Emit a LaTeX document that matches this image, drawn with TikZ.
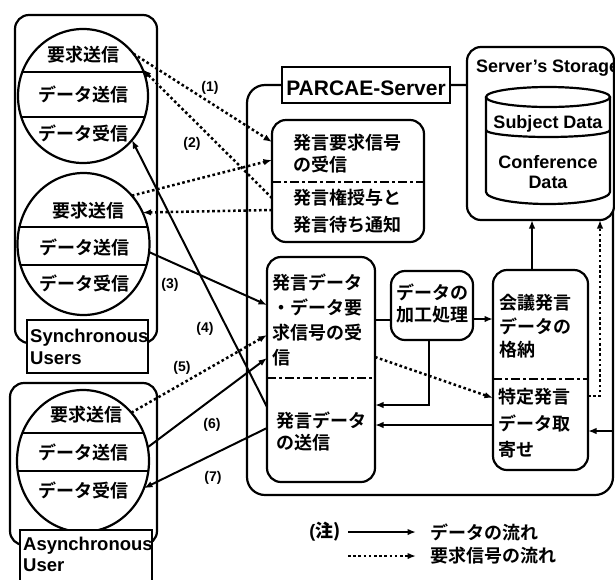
\documentclass[tikz,border=0pt]{standalone}
\usepackage{fontspec}
\setmainfont{Liberation Sans}
\newfontfamily\cjk{Noto Sans CJK JP Bold}
\usetikzlibrary{arrows.meta,shapes.geometric}
\begin{document}
\begin{tikzpicture}[x=1pt,y=-1pt,
  box/.style={draw, line width=2.2pt, rounded corners=14pt, inner sep=0pt, outer sep=0pt},
  sq/.style={draw, line width=2pt, fill=white, inner sep=0pt, outer sep=0pt},
  ell/.style={draw, ellipse, line width=2.2pt, inner sep=0pt, outer sep=0pt},
  sepline/.style={line width=2pt},
  jp/.style={font=\cjk\fontsize{18}{22}\selectfont, inner sep=0pt, align=left},
  en/.style={font=\bfseries\fontsize{18.5}{22}\selectfont, inner sep=0pt},
  num/.style={font=\bfseries\fontsize{14}{16}\selectfont, inner sep=0pt},
  flow/.style={line width=2pt, -{Latex[length=8.5pt,width=6.5pt]}},
  req/.style={line width=2.5pt, dash pattern=on 2.6pt off 2.6pt, -{Latex[length=8.5pt,width=6.5pt]}},
  divline/.style={line width=2pt, dash pattern=on 9pt off 3pt on 3pt off 3pt},
]
\path[use as bounding box, fill=white] (0,0) rectangle (615,579);

% ---------- users ----------
\node[box, minimum width=142, minimum height=328] (sync) at (86,179) {};
\node[box, minimum width=147, minimum height=162] (async) at (83.5,464) {};
\node[ell, minimum width=130, minimum height=134] (e1) at (83,96) {};
\node[ell, minimum width=132, minimum height=142] (e2) at (83.5,244) {};
\node[ell, minimum width=132, minimum height=142] (e3) at (83,461) {};
\begin{scope}
  \clip (e1.center) ellipse [x radius=65, y radius=67];
  \draw[sepline] (0,72) -- (200,72) (0,117) -- (200,117);
\end{scope}
\begin{scope}
  \clip (e2.center) ellipse [x radius=66, y radius=71];
  \draw[sepline] (0,227) -- (200,227) (0,265) -- (200,265);
\end{scope}
\begin{scope}
  \clip (e3.center) ellipse [x radius=66, y radius=71];
  \draw[sepline] (0,433) -- (200,433) (0,471) -- (200,471);
\end{scope}
\node[jp] (e1a) at (83,55) {要求送信};
\node[jp] (e1b) at (83,94) {データ送信};
\node[jp] (e1c) at (83,133) {データ受信};
\node[jp] (e2a) at (88,211) {要求送信};
\node[jp] (e2b) at (84,247) {データ送信};
\node[jp] (e2c) at (84,283) {データ受信};
\node[jp] (e3a) at (86,415) {要求送信};
\node[jp] (e3b) at (83,452) {データ送信};
\node[jp] (e3c) at (83,490) {データ受信};

\node[sq, minimum width=121, minimum height=53] (synl) at (87.5,346.5) {};
\node[en, anchor=base west] (synt1) at (30,342) {Synchronous};
\node[en, anchor=base west] (synt2) at (30,364) {Users};
\node[sq, minimum width=132, minimum height=70] (asynl) at (86,565) {};
\node[en, anchor=base west] (asynt1) at (23,550) {Asynchronous};
\node[en, anchor=base west] (asynt2) at (23,571) {User};

% ---------- server ----------
\node[box, rounded corners=18pt, minimum width=366, minimum height=410] (srv) at (430,290) {};
\node[box, fill=white, minimum width=147, minimum height=173] (st) at (540.5,133.5) {};
\node[sq, minimum width=168, minimum height=36] (pl) at (366,85) {};
\node[font=\bfseries\fontsize{21}{24}\selectfont, inner sep=0pt, anchor=base] (plt) at (366,95) {PARCAE-Server};
\node[font=\bfseries\fontsize{18}{20}\selectfont, inner sep=0pt, anchor=base west] (stt) at (476,72) {Server's Storage};

% cylinder
\draw[line width=2.2pt] (486,97) -- (486,192) arc[start angle=180, end angle=0, x radius=62, y radius=12] -- (610,97);
\draw[line width=2.2pt] (548,97) ellipse [x radius=62, y radius=10];
\draw[line width=2.2pt] (486,130) arc[start angle=180, end angle=0, x radius=62, y radius=7];
\node[font=\bfseries\fontsize{18}{20}\selectfont, inner sep=0pt, anchor=base] (subj) at (548,128) {Subject Data};
\node[font=\bfseries\fontsize{18}{20}\selectfont, inner sep=0pt, anchor=base] (conf) at (548,168) {Conference};
\node[font=\bfseries\fontsize{18}{20}\selectfont, inner sep=0pt, anchor=base] (confd) at (548,188) {Data};

% inner boxes
\node[box, minimum width=152, minimum height=122] (b1) at (348,181) {};
\node[box, minimum width=108, minimum height=225] (b2) at (321,369.5) {};
\node[box, minimum width=82, minimum height=69] (b3) at (432,305.5) {};
\node[box, minimum width=95, minimum height=200] (b4) at (540.5,370) {};
\draw[divline] (b1.west |- 0,182) -- (b1.east |- 0,182);
\draw[divline] (b2.west |- 0,378) -- (b2.east |- 0,378);
\draw[divline] (b4.west |- 0,379) -- (b4.east |- 0,379);

\node[jp, anchor=west, font=\cjk\fontsize{18}{22}\selectfont] (t1a) at (293,154) {発言要求信号\\の受信};
\node[jp, anchor=west, font=\cjk\fontsize{18}{27}\selectfont] (t1b) at (293,211.5) {発言権授与と\\発言待ち通知};
\node[jp, anchor=west, font=\cjk\fontsize{18}{25.3}\selectfont] (t2a) at (272,320) {発言データ\\・データ要\\求信号の受\\信};
\node[jp, anchor=west, font=\cjk\fontsize{18}{22}\selectfont] (t2b) at (276,431) {発言データ\\の送信};
\node[jp, anchor=west, font=\cjk\fontsize{18}{22}\selectfont] (t3) at (396,304) {データの\\加工処理};
\node[jp, anchor=west, font=\cjk\fontsize{18}{23.5}\selectfont] (t4a) at (499,326.5) {会議発言\\データの\\格納};
\node[jp, anchor=west, font=\cjk\fontsize{18}{26.5}\selectfont] (t4b) at (498,423.5) {特定発言\\データ取\\寄せ};

% inner connectors
\draw[line width=2pt] (b2.east |- 0,320) -- (b3.west |- 0,320);
\draw[flow] (b3.east |- 0,319) -- (b4.west |- 0,319);
\draw[flow] (b3.south -| 429,0) |- (b2.east |- 0,405);
\draw[flow] (b4.west |- 0,425) -- (b2.east |- 0,425);
\draw[req] (b2.east |- 0,357) -- (b4.west |- 0,398);
\draw[flow] (b4.north -| 532,0) -- (st.south -| 532,0);
\draw[req] (b4.east |- 0,396) -| (st.south -| 600,0);
\draw[flow] (st.south -| 613,0) |- (b4.east |- 0,431);

% user <-> server connectors
\draw[req] (e1.40) -- (b1.west |- 0,142);
\draw[req] (b1.west |- 0,198) -- (e1.24);
\draw[req] (e2.45) -- (b1.west |- 0,160);
\draw[req] (b1.west |- 0,210) -- (e2.28);
\draw[flow] (e2.-7) -- (b2.west |- 0,305);
\draw[flow] (b2.west |- 0,407) -- (e1.-42);
\draw[req] (e3.45) -- (b2.west |- 0,335);
\draw[flow] (e3.12) -- (b2.west |- 0,358);
\draw[flow] (b2.west |- 0,428) -- (e3.-24);

\node[num] (n1) at (210,88) {(1)};
\node[num] (n2) at (192,144) {(2)};
\node[num] (n3) at (170,285) {(3)};
\node[num] (n4) at (205,329) {(4)};
\node[num] (n5) at (182,368) {(5)};
\node[num] (n6) at (212,425) {(6)};
\node[num] (n7) at (213,478) {(7)};

% legend
\node[inner sep=0pt] (note) at (325,532) {\bfseries\fontsize{18}{20}\selectfont(\cjk 注\bfseries)};
\coordinate (l1s) at (348,532);
\coordinate (l1e) at (416,532);
\coordinate (l2s) at (348,556);
\coordinate (l2e) at (416,556);
\draw[flow] (l1s) -- (l1e);
\draw[req] (l2s) -- (l2e);
\node[jp, anchor=west] (lg1) at (430,532) {データの流れ};
\node[jp, anchor=west] (lg2) at (430,556) {要求信号の流れ};
\end{tikzpicture}
\end{document}
